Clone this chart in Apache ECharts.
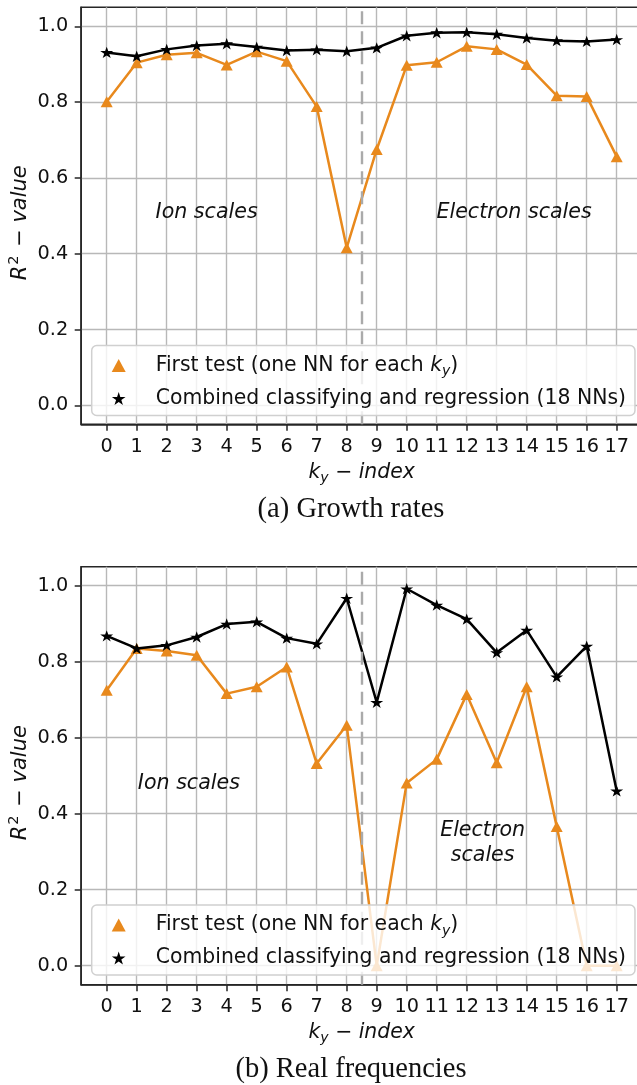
<!DOCTYPE html>
<html><head><meta charset="utf-8">
<script src="https://cdn.jsdelivr.net/npm/echarts@6/dist/echarts.min.js"></script>
<style>html,body{margin:0;padding:0;background:#fff}#c{width:637px;height:1085px}</style>
</head><body><div id="c"></div>
<script>
// ---- data ----
const kyIndex = [0,1,2,3,4,5,6,7,8,9,10,11,12,13,14,15,16,17];
const yTicks = [0.0,0.2,0.4,0.6,0.8,1.0];
const growthFirst    = [0.801,0.904,0.925,0.930,0.898,0.933,0.908,0.788,0.416,0.675,0.897,0.905,0.947,0.939,0.899,0.817,0.815,0.656];
const growthCombined = [0.931,0.921,0.939,0.949,0.954,0.945,0.936,0.938,0.934,0.943,0.975,0.983,0.984,0.979,0.969,0.962,0.960,0.965];
const freqFirst      = [0.725,0.835,0.828,0.817,0.716,0.734,0.786,0.532,0.633,0.0,0.481,0.543,0.714,0.534,0.734,0.366,0.0,0.0];
const freqCombined   = [0.868,0.835,0.843,0.865,0.899,0.905,0.862,0.847,0.967,0.693,0.992,0.949,0.912,0.824,0.883,0.760,0.841,0.460];
const seriesNames = ['First test', 'Combined'];
const captions = ['(a) Growth rates', '(b) Real frequencies'];
const scaleSplit = 8.5;
const regionText = [
  [{name:'Ion scales', coord:[3.33,0.509]}, {name:'Electron scales', coord:[13.58,0.509]}],
  [{name:'Ion scales', coord:[2.74,0.48]}, {name:'Electron\nscales', coord:[12.53,0.323]}]
];
const panelData = [[growthFirst, growthCombined],[freqFirst, freqCombined]];

// ---- style ----
const ORANGE = '#e8891d';
const AXC = '#262626';
const GRIDC = '#b8b8b8';
const SANS = 'DejaVu Sans';
const STAR = 'path://M1000,0 L1224.5,691 L1951,691 L1363,1118 L1588,1809 L1000,1382 L412,1809 L637,1118 L49,691 L775.5,691 Z';
const panels = [{top:7.3, height:417}, {top:566.7, height:418}];
const legendTops = [345.5, 905];
const captionY = [510, 1070];

const grid = [], xAxis = [], yAxis = [], series = [], legend = [], graphic = [];
panels.forEach((pn, p) => {
  grid.push({left:81.2, top:pn.top, width:561, height:pn.height, show:true,
    borderColor:AXC, borderWidth:1.5, backgroundColor:'transparent', containLabel:false, outerBoundsMode:'none'});
  xAxis.push({type:'value', gridIndex:p, min:-0.85, max:17.85,
    axisLine:{show:true, onZero:false, lineStyle:{color:AXC, width:1.5}},
    axisTick:{show:true, customValues:kyIndex, length:6.5, lineStyle:{color:AXC, width:1.5}},
    axisLabel:{show:true, customValues:kyIndex, margin:13, fontSize:19.3, color:'#111', fontFamily:SANS, hideOverlap:false, formatter:v=>String(v)},
    splitLine:{show:true, lineStyle:{color:GRIDC, width:1.4}},
    name:'{i|k}{sub|y}{t| − }{i|index}', nameLocation:'middle', nameGap:37,
    nameTextStyle:{fontFamily:SANS, fontSize:20.4, color:'#111', rich:{
      i:{fontStyle:'italic', fontSize:20.4, lineHeight:22, fontFamily:SANS, color:'#111'},
      t:{fontSize:20.4, lineHeight:22, fontFamily:SANS, color:'#111'},
      sub:{fontStyle:'italic', fontSize:14, lineHeight:14, padding:[12,0,0,0], fontFamily:SANS, color:'#111'}}}
  });
  yAxis.push({type:'value', gridIndex:p, min:-0.05, max:1.05,
    axisLine:{show:true, onZero:false, lineStyle:{color:AXC, width:1.5}},
    axisTick:{show:true, customValues:yTicks, length:6.5, lineStyle:{color:AXC, width:1.5}},
    axisLabel:{show:true, customValues:yTicks, margin:13, fontSize:19.3, color:'#111', fontFamily:SANS, formatter:v=>v.toFixed(1)},
    splitLine:{show:true, lineStyle:{color:GRIDC, width:1.4}},
    name:'{i|R}{sup|2}{t| − }{i|value}', nameLocation:'middle', nameRotate:90, nameGap:50, nameMoveOverlap:false,
    nameTextStyle:{fontFamily:SANS, fontSize:21, color:'#111', padding:[0,14,0,0], rich:{
      i:{fontStyle:'italic', fontSize:21, lineHeight:22, fontFamily:SANS, color:'#111'},
      t:{fontSize:21, lineHeight:22, fontFamily:SANS, color:'#111'},
      sup:{fontStyle:'normal', fontSize:14.5, lineHeight:14, padding:[0,2,12,1], fontFamily:SANS, color:'#111'}}}
  });
  const [first, comb] = panelData[p];
  series.push({name:seriesNames[0], type:'line', xAxisIndex:p, yAxisIndex:p,
    data:kyIndex.map((k,i)=>[k, first[i]]), symbol:'triangle', symbolSize:[12,11],
    itemStyle:{color:ORANGE}, lineStyle:{color:ORANGE, width:2.5}, z:3, animation:false,
    markLine:{silent:true, symbol:'none', label:{show:false}, animation:false,
      lineStyle:{color:'#aaaaaa', type:[13,7], width:2.4}, data:[{xAxis:scaleSplit}]},
    markPoint:{silent:true, symbol:'circle', symbolSize:0, animation:false,
      label:{show:true, position:'inside', color:'#111', fontStyle:'italic', fontSize:20.6, fontFamily:SANS, lineHeight:25, align:'center', formatter:q=>q.name},
      data:regionText[p].map(r=>({name:r.name, coord:r.coord}))}
  });
  series.push({name:seriesNames[1], type:'line', xAxisIndex:p, yAxisIndex:p,
    data:kyIndex.map((k,i)=>[k, comb[i]]), symbol:STAR, symbolSize:[13,12], symbolKeepAspect:true,
    itemStyle:{color:'#000'}, lineStyle:{color:'#000', width:2.5}, z:4, animation:false});
  legend.push({orient:'vertical', left:91.7, top:legendTops[p], padding:[7,9,7,20], itemGap:10,
    itemWidth:14, itemHeight:13, backgroundColor:'rgba(255,255,255,0.8)', borderColor:'#d0d0d0', borderWidth:1.5, borderRadius:5,
    selectedMode:false, z:10,
    data:[{name:seriesNames[0], icon:'triangle'}, {name:seriesNames[1], icon:STAR}],
    formatter:n => n===seriesNames[0] ? '{g|}{t|First test (one NN for each }{i|k}{sub|y}{t|)}' : '{g|}{t|Combined classifying and regression (18 NNs)}',
    textStyle:{fontFamily:SANS, fontSize:20.4, color:'#111', rich:{
      g:{width:25},
      t:{fontSize:20.4, lineHeight:22, fontFamily:SANS, color:'#111'},
      i:{fontStyle:'italic', fontSize:20.4, lineHeight:22, fontFamily:SANS, color:'#111'},
      sub:{fontStyle:'italic', fontSize:14, lineHeight:14, padding:[12,0,0,0], fontFamily:SANS, color:'#111'}}}
  });
  graphic.push({type:'text', x:351, y:captionY[p], silent:true,
    style:{text:captions[p], align:'center', verticalAlign:'middle', fontSize:28.5, fontFamily:'Liberation Serif', fill:'#111'}});
});

const chart = echarts.init(document.getElementById('c'), null, {renderer:'canvas'});
chart.setOption({animation:false, backgroundColor:'#fff', grid, xAxis, yAxis, series, legend, graphic});
</script></body></html>
